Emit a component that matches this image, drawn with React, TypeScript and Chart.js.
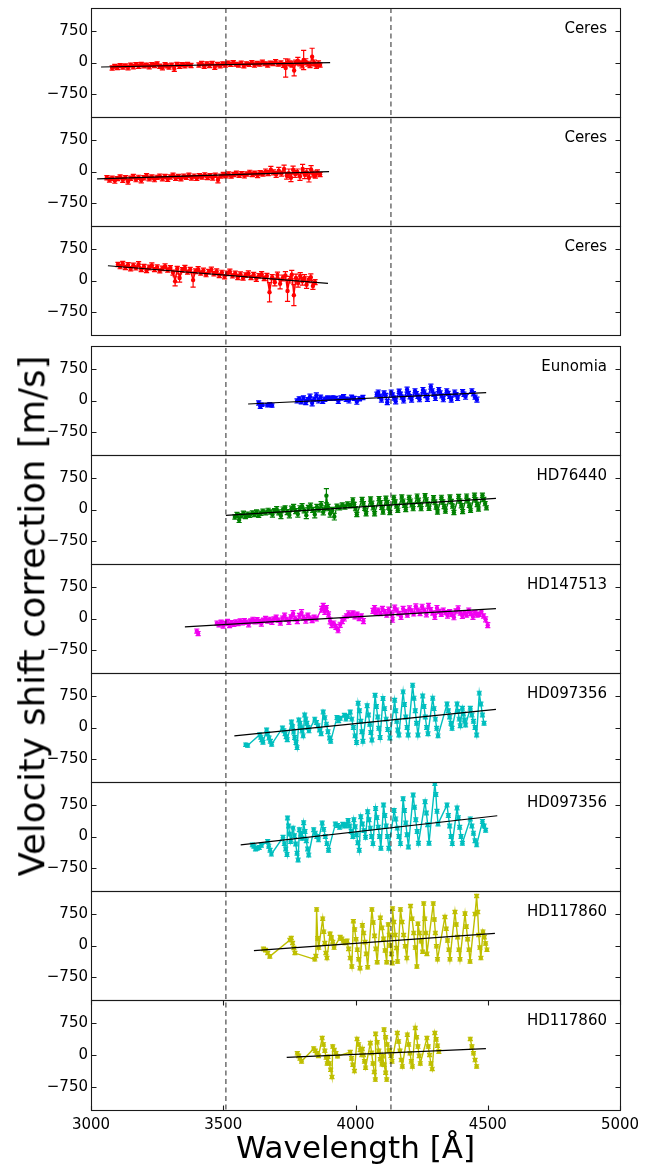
import React, { useEffect, useRef } from "react";
import { Chart, registerables } from "chart.js";

Chart.register(...registerables);
Chart.defaults.font.family = '"DejaVu Sans", sans-serif';
Chart.defaults.color = "#000";

// ---------------- axes ----------------
const X_MIN = 3000;
const X_MAX = 5000;
const X_TICKS = [3000, 3500, 4000, 4500, 5000];
const Y_MIN = -1300;
const Y_MAX = 1300;
const Y_TICKS = [-750, 0, 750];
const REF_WAVELENGTHS = [3510, 4134];
const X_TITLE = "Wavelength [Å]";
const Y_TITLE = "Velocity shift correction [m/s]";

// ---------------- panel labels / colours ----------------
const LABELS = ["Ceres", "Ceres", "Ceres", "Eunomia", "HD76440", "HD147513", "HD097356", "HD097356", "HD117860", "HD117860"];
const COLORS = ["#ff0000", "#ff0000", "#ff0000", "#0000ff", "#008000", "#f000f0", "#00bfbf", "#00bfbf", "#bfbf00", "#bfbf00"];

// ---------------- data: [wavelength, velocity, error] ----------------
const ceres1a = [
  [3080, -130, 50], [3090, -90, 45], [3100, -120, 50], [3110, -70, 45], [3120, -110, 50], [3130, -80, 45],
  [3140, -120, 55], [3150, -60, 45], [3160, -100, 50], [3170, -50, 45], [3180, -90, 50], [3190, -40, 45],
  [3200, -80, 50], [3210, -60, 45], [3220, -100, 50], [3230, -50, 45], [3240, -70, 50], [3250, -30, 45],
  [3260, -90, 50], [3270, -120, 55], [3280, -50, 45], [3287, -80, 50],
];
const ceres1b = [
  [3295, -110, 50], [3305, -60, 45], [3315, -150, 60], [3325, -40, 45], [3335, -90, 50], [3345, -50, 45],
  [3355, -80, 50], [3365, -40, 45], [3378, -70, 50],
];
const ceres1c = [
  [3408, -60, 50], [3418, -20, 45], [3428, -90, 50], [3438, -30, 45], [3448, -70, 50], [3458, -20, 45],
  [3468, -110, 55], [3478, -40, 45], [3488, -80, 50], [3498, -30, 45], [3508, -60, 50], [3518, -10, 45],
  [3528, -50, 45], [3538, 0, 45], [3548, -40, 45], [3558, -60, 50], [3568, -10, 45], [3578, -80, 50],
  [3588, -30, 45], [3598, -50, 45], [3608, 0, 45], [3618, -60, 50], [3628, -20, 45], [3638, -40, 50],
  [3648, 10, 45], [3658, -30, 45], [3668, -60, 50], [3678, -10, 45], [3688, -30, 45], [3698, 20, 50],
  [3708, -40, 45], [3718, -10, 50], [3728, -60, 55], [3736, -130, 220], [3744, 10, 70], [3752, -20, 60],
  [3760, -40, 70], [3768, -190, 130], [3774, 0, 60], [3782, 40, 80], [3790, -20, 60], [3798, -60, 70],
  [3804, 60, 230], [3812, 20, 70], [3820, -30, 60], [3828, -60, 60], [3836, 140, 200], [3844, -10, 70],
  [3852, -80, 60], [3860, -20, 60], [3866, -60, 50],
];
const ceres1Fit = [[3038, -107], [3904, -5]];

const ceres2 = [
  [3060, -150, 50], [3070, -200, 55], [3080, -160, 50], [3090, -220, 60], [3100, -170, 50], [3110, -130, 50],
  [3120, -200, 60], [3130, -150, 50], [3140, -240, 60], [3150, -160, 50], [3160, -120, 50], [3170, -190, 55],
  [3180, -140, 50], [3190, -210, 60], [3200, -150, 50], [3210, -100, 50], [3220, -170, 55], [3230, -130, 50],
  [3240, -190, 55], [3250, -140, 50], [3260, -110, 50], [3270, -170, 55], [3280, -120, 50], [3290, -180, 55],
  [3300, -130, 50], [3310, -90, 50], [3320, -160, 55], [3330, -120, 50], [3340, -170, 55], [3350, -110, 50],
  [3360, -140, 50], [3370, -90, 50], [3380, -150, 55], [3390, -110, 50], [3400, -160, 55], [3410, -100, 50],
  [3420, -130, 50], [3430, -80, 50], [3440, -140, 55], [3450, -100, 50], [3460, -150, 55], [3470, -90, 50],
  [3480, -200, 70], [3490, -110, 50], [3500, -70, 50], [3510, -100, 50], [3520, -60, 50], [3530, -110, 50],
  [3540, -70, 50], [3550, -40, 50], [3560, -90, 50], [3570, -50, 50], [3580, -100, 55], [3590, -60, 50],
  [3600, -20, 50], [3610, -70, 50], [3620, -40, 50], [3630, -90, 55], [3640, -30, 50], [3650, -60, 50],
  [3660, 0, 60], [3670, -40, 60], [3680, 40, 80], [3690, -20, 60], [3700, -70, 70], [3710, 20, 80],
  [3720, -50, 60], [3730, 60, 90], [3740, -100, 80], [3748, -40, 100], [3756, -150, 90], [3764, 40, 90],
  [3772, -60, 80], [3780, -10, 70], [3790, -120, 90], [3800, 60, 110], [3808, -80, 90], [3816, -20, 90],
  [3824, -150, 100], [3832, 50, 90], [3840, -60, 70], [3848, -100, 60], [3856, -20, 60], [3866, -70, 50],
];
const ceres2Fit = [[3023, -178], [3900, -5]];

const ceres3 = [
  [3102, 380, 50], [3110, 330, 50], [3120, 400, 55], [3130, 310, 50], [3140, 370, 55], [3150, 280, 50],
  [3160, 360, 55], [3170, 300, 50], [3180, 390, 60], [3190, 260, 50], [3200, 330, 55], [3210, 240, 50],
  [3220, 310, 55], [3230, 360, 60], [3240, 260, 50], [3250, 320, 55], [3260, 230, 50], [3270, 290, 55],
  [3280, 340, 60], [3290, 250, 50], [3300, 300, 55], [3310, 190, 60], [3318, -20, 110], [3326, 280, 55],
  [3335, 60, 100], [3345, 250, 55], [3355, 300, 60], [3365, 200, 50], [3375, 260, 55], [3386, 10, 170],
  [3395, 220, 55], [3405, 270, 60], [3415, 180, 50], [3425, 240, 55], [3435, 140, 50], [3445, 210, 55],
  [3455, 260, 60], [3465, 160, 50], [3475, 220, 55], [3485, 120, 50], [3495, 190, 55], [3505, 90, 50],
  [3515, 170, 55], [3525, 210, 60], [3535, 110, 50], [3545, 170, 55], [3555, 80, 60], [3565, 150, 55],
  [3575, 60, 50], [3585, 130, 55], [3595, 170, 60], [3605, 70, 50], [3615, 140, 55], [3625, 40, 60],
  [3635, 110, 55], [3645, 150, 60], [3655, 50, 55], [3665, 110, 60], [3675, -280, 230], [3685, 80, 60],
  [3695, -40, 90], [3705, 130, 70], [3715, -80, 120], [3725, 60, 70], [3735, 120, 90], [3743, -250, 250],
  [3751, 20, 80], [3759, 140, 100], [3767, -350, 250], [3775, 60, 90], [3783, -60, 100], [3791, 110, 80],
  [3799, -20, 90], [3807, 60, 80], [3815, -100, 90], [3823, 20, 70], [3831, 80, 80], [3839, -130, 80],
  [3847, -40, 60],
];
const ceres3Fit = [[3064, 352], [3896, -67]];

const eunomiaA = [
  [3634, -60, 50], [3640, -140, 50], [3646, -100, 40], [3668, -110, 40], [3676, -90, 40], [3684, -120, 40],
];
const eunomiaB = [
  [3779, -10, 50], [3787, 40, 50], [3795, -30, 50], [3803, 60, 50], [3812, -40, 60], [3820, 20, 50],
  [3828, 90, 60], [3836, -60, 70], [3844, 30, 50], [3852, 120, 60], [3860, 0, 60], [3868, 80, 50],
  [3876, -20, 50], [3884, 30, 50], [3895, 60, 50], [3905, 40, 40], [3915, 70, 40], [3925, 50, 50],
  [3935, -10, 60], [3945, 60, 50], [3955, 90, 50], [3965, 30, 50], [3975, 0, 60], [3985, 80, 50],
  [3995, 50, 50], [4005, -30, 60], [4015, 40, 50], [4028, 70, 50],
];
const eunomiaC = [
  [4081, 150, 50], [4086, 200, 50], [4092, 100, 50], [4098, 20, 60], [4108, 180, 50], [4114, 120, 50],
  [4120, -40, 60], [4135, 200, 50], [4140, 130, 50], [4146, 60, 50], [4152, -20, 60], [4165, 220, 50],
  [4170, 150, 50], [4176, 80, 50], [4182, 0, 60], [4195, 260, 60], [4200, 170, 50], [4206, 90, 50],
  [4212, 20, 60], [4225, 230, 50], [4230, 160, 50], [4236, 100, 50], [4242, 30, 60], [4255, 250, 60],
  [4260, 200, 50], [4266, 120, 50], [4272, 40, 60], [4285, 330, 60], [4290, 230, 50], [4296, 150, 50],
  [4302, 60, 60], [4315, 260, 50], [4320, 180, 50], [4326, 110, 50], [4332, 30, 60], [4345, 230, 50],
  [4350, 170, 50], [4356, 100, 50], [4362, 20, 60], [4375, 200, 50], [4380, 140, 50], [4386, 60, 60],
  [4405, 210, 50], [4410, 150, 50], [4416, 90, 60], [4440, 230, 50], [4446, 160, 50], [4452, 80, 50],
  [4459, 20, 60],
];
const eunomiaFit = [[3594, -83], [4494, 186]];

const hd76440 = [
  [3544, -180, 50], [3552, -120, 50], [3560, -250, 60], [3568, -150, 50], [3576, -90, 50], [3584, -170, 50],
  [3592, -110, 50], [3600, -140, 50], [3610, -80, 50], [3618, -120, 50], [3626, -60, 50], [3634, -140, 50],
  [3642, -90, 50], [3650, -40, 50], [3660, -80, 50], [3670, -20, 50], [3678, -60, 50], [3686, -120, 60],
  [3694, -30, 50], [3702, 10, 60], [3710, -70, 60], [3718, -150, 70], [3726, 0, 60], [3734, 40, 50],
  [3742, -60, 60], [3750, -130, 70], [3758, 20, 60], [3766, 60, 60], [3774, -40, 60], [3782, -110, 70],
  [3790, 30, 60], [3798, 80, 60], [3806, -20, 60], [3814, -140, 80], [3822, 40, 60], [3830, 90, 60],
  [3838, -10, 60], [3846, -120, 80], [3854, 60, 60], [3862, 0, 60], [3870, 120, 70], [3878, -60, 70],
  [3886, 30, 60], [3890, 330, 170], [3896, 60, 60], [3904, -100, 80], [3912, -20, 70], [3920, -170, 80],
  [3930, 80, 50], [3940, 40, 50], [3950, 110, 50], [3960, 60, 50], [3970, 130, 50], [3980, 90, 50],
  [3990, 230, 50], [3995, 120, 50], [4000, 20, 50], [4005, -120, 50],
  [4025, 240, 50], [4030, 140, 50], [4035, 30, 50], [4040, -100, 50],
  [4057, 250, 50], [4062, 150, 50], [4067, 40, 50], [4072, -100, 50],
  [4089, 260, 50], [4094, 160, 50], [4099, 50, 50], [4104, -60, 50],
  [4115, 270, 50], [4120, 170, 50], [4125, 60, 50], [4130, -70, 50],
  [4145, 290, 50], [4150, 180, 50], [4155, 80, 50], [4160, -20, 50],
  [4175, 300, 50], [4180, 200, 50], [4185, 100, 50], [4190, 0, 50],
  [4203, 290, 50], [4208, 200, 50], [4213, 110, 50], [4218, 20, 50],
  [4233, 320, 50], [4238, 220, 50], [4243, 120, 50], [4248, 20, 50],
  [4263, 330, 50], [4268, 230, 50], [4273, 130, 50], [4278, 30, 50],
  [4295, 280, 50], [4300, 180, 50], [4305, 60, 50], [4310, -60, 50],
  [4325, 290, 50], [4330, 180, 50], [4335, 70, 50], [4340, -40, 50],
  [4357, 300, 50], [4362, 190, 50], [4367, 80, 50], [4372, -70, 50],
  [4390, 310, 50], [4395, 200, 50], [4400, 90, 50], [4405, -50, 50],
  [4420, 320, 50], [4425, 210, 50], [4430, 100, 50], [4435, -20, 50],
  [4450, 340, 50], [4455, 230, 50], [4460, 120, 50], [4465, 10, 50],
  [4480, 340, 50], [4485, 240, 50], [4490, 140, 50], [4495, 40, 50],
];
const hd76440Fit = [[3510, -139], [4531, 266]];

const hd147513A = [[3400, -300, 50], [3405, -360, 50]];
const hd147513B = [
  [3476, -110, 50], [3484, -150, 50], [3492, -90, 50], [3500, -170, 60], [3508, -120, 50], [3516, -70, 50],
  [3524, -160, 60], [3532, -100, 50], [3540, -140, 50], [3548, -80, 50], [3556, -120, 50], [3564, -60, 50],
  [3572, -100, 50], [3580, -50, 50], [3588, -90, 50], [3596, -140, 60], [3604, -60, 50], [3612, -20, 50],
  [3620, -80, 50], [3628, -30, 50], [3636, -70, 50], [3644, -120, 60], [3652, -40, 50], [3660, 0, 50],
  [3668, -60, 50], [3676, -20, 50], [3684, -80, 60], [3692, -10, 50], [3700, 30, 50], [3708, -40, 50],
  [3716, -100, 60], [3724, 10, 50], [3732, 70, 60], [3740, -20, 50], [3748, -80, 60], [3756, 40, 50],
  [3764, 120, 70], [3772, 0, 60], [3780, -60, 60], [3788, 60, 60], [3796, 140, 70], [3804, 20, 60],
  [3812, -50, 60], [3820, 80, 50], [3828, 10, 50], [3836, -40, 60], [3844, 30, 50], [3852, -10, 50],
  [3872, 220, 70], [3878, 300, 60], [3884, 160, 60], [3890, 250, 60], [3898, 100, 60], [3904, -60, 70],
  [3910, -150, 70], [3918, -120, 60], [3926, -200, 60], [3934, -280, 60], [3942, -150, 60], [3950, -60, 60],
  [3958, 0, 60], [3966, 60, 50], [3974, 120, 60], [3982, 80, 50], [3990, 130, 50], [3998, 40, 50],
  [4006, 100, 50], [4014, 0, 50], [4022, 60, 50], [4030, -60, 60],
];
const hd147513C = [
  [4066, 180, 60], [4072, 250, 60], [4078, 150, 50], [4086, 200, 50], [4094, 120, 50], [4102, 230, 60],
  [4110, 160, 50], [4118, 80, 50], [4126, 210, 60], [4134, 130, 50], [4140, -30, 60], [4148, 260, 60],
  [4156, 200, 50], [4164, 120, 50], [4172, 40, 60], [4180, 230, 60], [4188, 160, 50], [4196, 80, 50],
  [4204, 240, 60], [4212, 180, 50], [4220, 110, 50], [4228, 290, 60], [4236, 200, 50], [4244, 120, 50],
  [4252, 280, 60], [4260, 200, 50], [4268, 100, 60], [4276, 300, 60], [4284, 210, 50], [4292, 130, 50],
  [4300, 40, 60], [4308, 250, 60], [4316, 170, 50], [4324, 100, 50], [4332, 200, 50], [4340, 140, 50],
  [4348, 70, 60], [4356, 160, 50], [4364, 100, 50], [4372, 30, 60], [4380, 180, 50], [4388, 240, 60],
  [4396, 130, 50], [4404, 60, 60], [4412, 140, 50], [4420, 80, 50], [4428, 200, 50], [4436, 120, 50],
  [4444, 40, 60], [4452, 140, 50], [4460, 80, 50], [4468, 100, 50], [4476, 160, 50], [4484, 60, 50],
  [4492, -20, 60], [4500, -160, 60],
];
const hd147513Fit = [[3355, -202], [4531, 234]];

const hd097356a = [
  [3585, -410, 40], [3592, -430, 40],
  [3638, -170, 45], [3642, -230, 45], [3646, -290, 45], [3650, -350, 45],
  [3664, -60, 45], [3668, -150, 45], [3673, -250, 45], [3678, -330, 45], [3683, -400, 45],
  [3724, -10, 45], [3729, -80, 45], [3734, -150, 45], [3738, -220, 45], [3742, -290, 45],
  [3758, 130, 45], [3762, 20, 45], [3766, -110, 45], [3770, -240, 45], [3775, -360, 45], [3779, -480, 45],
  [3786, 180, 45], [3790, 100, 45], [3794, 10, 45], [3798, -80, 45], [3802, -200, 45],
  [3808, 300, 45], [3812, 200, 45], [3816, 100, 45], [3820, 0, 45], [3824, -80, 45],
  [3846, 200, 45], [3852, 120, 45], [3858, 40, 45], [3864, -60, 45], [3870, -150, 45],
  [3878, 370, 45], [3884, 230, 45], [3890, 80, 45], [3896, -100, 45], [3902, -250, 45], [3906, -330, 45],
  [3930, 240, 45], [3936, 160, 45], [3942, 220, 45],
  [3958, 290, 45], [3964, 200, 45], [3970, 260, 45],
  [3980, 370, 45], [3986, 200, 45], [3992, 0, 45], [3998, -200, 45], [4004, -360, 45],
  [4010, 580, 45], [4015, 400, 45], [4020, 150, 45], [4024, -100, 45], [4028, -330, 45],
  [4044, 520, 45], [4049, 300, 45], [4054, 80, 45], [4058, -120, 45], [4062, -300, 45],
  [4074, 770, 45], [4079, 500, 45], [4084, 250, 45], [4088, -20, 45], [4093, -240, 45],
  [4104, 690, 45], [4110, 450, 45], [4116, 200, 45], [4122, -50, 45], [4130, -250, 45],
  [4148, 650, 45], [4152, 400, 45], [4156, 150, 45], [4160, -60, 45], [4164, -180, 45],
  [4180, 850, 45], [4185, 550, 45], [4190, 250, 45], [4195, 0, 45], [4199, -180, 45],
  [4216, 1010, 45], [4221, 700, 45], [4226, 400, 45], [4231, 100, 45], [4236, -180, 45],
  [4254, 750, 45], [4259, 500, 45], [4264, 250, 45], [4269, 0, 45], [4274, -150, 45],
  [4292, 700, 45], [4297, 450, 45], [4302, 200, 45], [4307, -20, 45], [4312, -200, 45],
  [4346, 560, 45], [4351, 400, 45], [4356, 250, 45], [4361, 100, 45], [4365, -20, 45],
  [4384, 560, 45], [4388, 380, 45], [4392, 200, 45], [4396, 40, 45],
  [4404, 460, 45], [4408, 320, 45], [4412, 180, 45], [4416, 60, 45],
  [4434, 460, 45], [4440, 300, 45], [4446, 150, 45], [4452, 0, 45], [4458, -180, 45],
  [4468, 820, 45], [4474, 560, 45], [4480, 300, 45], [4486, 100, 45],
];
const hd097356aFit = [[3542, -202], [4531, 433]];

const hd097356b = [
  [3610, -200, 45], [3616, -230, 45], [3622, -300, 45], [3628, -280, 45], [3636, -260, 45], [3644, -210, 45],
  [3668, -120, 45], [3672, -230, 45], [3677, -330, 45], [3682, -420, 45],
  [3726, -20, 45], [3731, -170, 45], [3736, -300, 45], [3741, -430, 45],
  [3743, 440, 45], [3747, 250, 45], [3751, 60, 45], [3755, -120, 45],
  [3764, 200, 45], [3769, 20, 45], [3774, -180, 45], [3779, -400, 45], [3783, -560, 45],
  [3788, 160, 45], [3793, 60, 45], [3798, -40, 45],
  [3804, 330, 45], [3809, 120, 45], [3814, -100, 45], [3819, -300, 45], [3823, -440, 45],
  [3842, 160, 45], [3848, 80, 45], [3854, 0, 45], [3860, -80, 45],
  [3874, 320, 45], [3880, 170, 45], [3886, 0, 45], [3892, -170, 45], [3898, -330, 45],
  [3924, 300, 45], [3932, 260, 45], [3940, 220, 45],
  [3952, 290, 45], [3958, 250, 45], [3964, 270, 45],
  [3972, 380, 45], [3978, 250, 45], [3984, 120, 45], [3990, 0, 45],
  [3994, 400, 45], [3999, 230, 45], [4004, 40, 45], [4009, -150, 45], [4014, -330, 45],
  [4020, 470, 45], [4026, 300, 45], [4032, 140, 45], [4038, -20, 45],
  [4046, 590, 45], [4051, 400, 45], [4056, 200, 45], [4061, 0, 45], [4066, -170, 45],
  [4076, 670, 45], [4081, 450, 45], [4086, 220, 45], [4091, 0, 45], [4096, -280, 45],
  [4106, 750, 45], [4111, 500, 45], [4116, 250, 45], [4121, 0, 45], [4126, -280, 45],
  [4146, 620, 45], [4152, 420, 45], [4158, 200, 45], [4164, 0, 45], [4170, -170, 45],
  [4180, 900, 45], [4185, 620, 45], [4190, 320, 45], [4195, 40, 45], [4200, -250, 45],
  [4218, 990, 45], [4223, 700, 45], [4228, 400, 45], [4233, 120, 45], [4238, -160, 45],
  [4263, 830, 45], [4268, 560, 45], [4273, 280, 45], [4278, -160, 45],
  [4300, 1265, 45], [4304, 1000, 45], [4308, 600, 45], [4312, 300, 45],
  [4346, 750, 45], [4351, 500, 45], [4356, 250, 45], [4361, 0, 45], [4366, -170, 45],
  [4384, 680, 45], [4389, 450, 45], [4394, 220, 45], [4399, 0, 45], [4404, -160, 45],
  [4434, 420, 45], [4440, 250, 45], [4446, 80, 45], [4452, -100, 45], [4458, -200, 45],
  [4480, 360, 45], [4486, 250, 45], [4492, 150, 45],
];
const hd097356bFit = [[3566, -202], [4536, 495]];

const hd117860a = [
  [3652, -80, 40], [3660, -110, 40], [3668, -180, 40], [3676, -260, 40],
  [3752, 130, 40], [3757, 180, 40], [3762, 60, 40], [3767, -60, 40], [3771, -180, 40],
  [3846, -330, 40], [3850, -250, 40], [3853, 860, 40], [3857, 170, 40], [3861, -50, 40],
  [3876, 640, 40], [3880, 330, 40], [3884, 60, 40], [3888, -180, 40], [3892, -300, 40],
  [3904, 280, 40], [3909, 190, 40], [3914, 80, 40], [3919, -50, 40],
  [3942, 200, 40], [3948, 160, 40], [3954, 100, 40], [3960, 60, 40],
  [3968, 110, 40], [3974, -80, 40], [3980, -300, 40], [3986, -500, 40],
  [3992, 580, 40], [3997, 380, 40], [4002, 150, 40], [4007, -100, 40], [4012, -330, 40], [4017, -540, 40],
  [4026, 480, 40], [4031, 300, 40], [4036, 80, 40], [4041, -200, 40], [4046, -520, 40],
  [4062, 860, 40], [4067, 550, 40], [4072, 230, 40], [4077, -80, 40], [4082, -400, 40],
  [4094, 660, 40], [4100, 420, 40], [4106, 160, 40], [4112, -120, 40], [4118, -400, 40],
  [4124, 500, 40], [4128, 250, 40], [4132, 0, 40], [4136, -200, 40], [4139, -420, 40],
  [4140, 880, 40], [4145, 560, 40], [4150, 250, 40], [4155, -60, 40], [4159, -380, 40],
  [4170, 860, 40], [4176, 560, 40], [4182, 250, 40], [4188, -20, 40], [4194, -300, 40],
  [4208, 940, 40], [4214, 640, 40], [4220, 300, 40], [4226, -50, 40], [4232, -500, 40],
  [4236, 520, 40], [4242, 300, 40], [4248, 100, 40], [4254, -150, 40],
  [4258, 1000, 40], [4262, 640, 40], [4266, 300, 40], [4270, -200, 40],
  [4294, 1000, 40], [4298, 620, 40], [4302, 300, 40], [4306, -20, 40], [4310, -330, 40],
  [4338, 680, 40], [4343, 400, 40], [4348, 120, 40], [4353, -100, 40], [4357, -330, 40],
  [4376, 800, 40], [4381, 500, 40], [4386, 200, 40], [4391, -100, 40], [4395, -330, 40],
  [4414, 760, 40], [4419, 450, 40], [4424, 150, 40], [4429, -100, 40], [4433, -380, 40],
  [4452, 750, 40], [4458, 1180, 40], [4462, 800, 40], [4466, 250, 40], [4470, -50, 40], [4474, -300, 40],
  [4482, 330, 40], [4487, 200, 40], [4492, 50, 40], [4497, -100, 40],
];
const hd117860aFit = [[3616, -123], [4527, 290]];

const hd117860b = [
  [3780, 40, 40], [3785, -20, 40], [3790, -80, 40], [3796, -150, 40],
  [3842, 150, 40], [3848, 100, 40], [3854, 40, 40], [3860, -20, 40],
  [3874, 400, 40], [3879, 250, 40], [3884, 100, 40], [3889, -60, 40], [3893, -200, 40],
  [3896, -40, 40], [3901, -200, 40], [3906, -350, 40], [3911, -520, 40],
  [3914, 200, 40], [3920, 120, 40], [3926, 40, 40], [3932, -30, 40],
  [3980, 70, 40], [3985, -80, 40], [3990, -230, 40], [3996, -380, 40],
  [4006, 380, 40], [4012, 250, 40], [4018, 120, 40], [4024, 0, 40],
  [4026, 140, 40], [4030, 0, 40], [4034, -150, 40], [4038, -300, 40],
  [4056, 280, 40], [4061, 50, 40], [4066, -200, 40], [4071, -400, 40], [4075, -580, 40],
  [4076, 500, 40], [4082, 300, 40], [4088, 100, 40], [4094, -100, 40], [4100, -220, 40],
  [4102, -30, 40], [4108, -230, 40], [4114, -420, 40], [4118, -580, 40],
  [4108, 600, 40], [4114, 420, 40], [4120, 250, 40], [4126, 100, 40],
  [4130, 120, 40], [4134, -20, 40], [4138, -150, 40],
  [4158, 520, 40], [4163, 320, 40], [4168, 100, 40], [4173, -120, 40], [4177, -270, 40],
  [4196, 480, 40], [4201, 250, 40], [4206, 40, 40], [4211, -150, 40], [4215, -270, 40],
  [4226, 640, 40], [4231, 420, 40], [4236, 200, 40], [4241, -20, 40], [4245, -200, 40],
  [4270, 400, 40], [4275, 200, 40], [4280, 0, 40], [4285, -200, 40], [4290, -330, 40],
  [4300, 520, 40], [4305, 370, 40], [4310, 220, 40], [4315, 80, 40],
];
const hd117860c = [
  [4434, 380, 40], [4440, 200, 40], [4446, 40, 40], [4452, -120, 40], [4458, -270, 40],
];
const hd117860bFit = [[3740, -55], [4493, 150]];

const SEGMENTS = [
  [ceres1a, ceres1b, ceres1c],
  [ceres2],
  [ceres3],
  [eunomiaA, eunomiaB, eunomiaC],
  [hd76440],
  [hd147513A, hd147513B, hd147513C],
  [hd097356a],
  [hd097356b],
  [hd117860a],
  [hd117860b, hd117860c],
];
const FITS = [ceres1Fit, ceres2Fit, ceres3Fit, eunomiaFit, hd76440Fit, hd147513Fit, hd097356aFit, hd097356bFit, hd117860aFit, hd117860bFit];

// ---------------- layout (not data) ----------------
const W = 657;
const H = 1167;
const PLOT_LEFT = 91;
const PLOT_RIGHT = 620;
const PANEL_TOPS = [8, 117, 226, 346, 455, 564, 673, 782, 891, 1000];
const PANEL_HEIGHTS = [109, 109, 109, 109, 109, 109, 109, 109, 109, 110];
const PAD = 3;

function fmtTick(v: number) {
  return v < 0 ? "\u2212" + Math.abs(v) : String(v);
}

function canvasBox(i: number) {
  const isLast = i === PANEL_TOPS.length - 1;
  const top = PANEL_TOPS[i] - PAD;
  const bottom = isLast ? H : PANEL_TOPS[i] + PANEL_HEIGHTS[i] + PAD;
  return { top, height: bottom - top, isLast };
}

function makeDecor(i: number, isLast: boolean) {
  const color = COLORS[i];
  const segs = SEGMENTS[i];
  return {
    id: "decor" + i,
    beforeDatasetDraw(chart: any, args: any) {
      if (args.index === 0) return;
      const seg = segs[args.index - 1];
      if (!seg) return;
      const { ctx, chartArea } = chart;
      const xs = chart.scales.x;
      const ys = chart.scales.y;
      ctx.save();
      ctx.beginPath();
      ctx.rect(chartArea.left, chartArea.top, chartArea.right - chartArea.left, chartArea.bottom - chartArea.top);
      ctx.clip();
      ctx.strokeStyle = color;
      ctx.lineWidth = 1.2;
      ctx.beginPath();
      seg.forEach((r: number[]) => {
        const x = xs.getPixelForValue(r[0]);
        const y1 = ys.getPixelForValue(r[1] + r[2]);
        const y2 = ys.getPixelForValue(r[1] - r[2]);
        ctx.moveTo(x, y1);
        ctx.lineTo(x, y2);
        ctx.moveTo(x - 2.6, y1);
        ctx.lineTo(x + 2.6, y1);
        ctx.moveTo(x - 2.6, y2);
        ctx.lineTo(x + 2.6, y2);
      });
      ctx.stroke();
      ctx.restore();
    },
    afterDraw(chart: any) {
      const { ctx, chartArea } = chart;
      const { right, top } = chartArea;
      const xs = chart.scales.x;
      const ys = chart.scales.y;
      const L = Math.round(chartArea.left) + 0.5;
      const R = Math.round(chartArea.right) + 0.5;
      const T = Math.round(chartArea.top) + 0.5;
      const B = Math.round(chartArea.bottom) + 0.5;
      ctx.save();
      ctx.strokeStyle = "#1a1a1a";
      ctx.lineWidth = 1.1;
      ctx.strokeRect(L, T, R - L, B - T);
      ctx.beginPath();
      Y_TICKS.forEach((v) => {
        const y = Math.round(ys.getPixelForValue(v)) + 0.5;
        ctx.moveTo(L, y);
        ctx.lineTo(L + 5, y);
        ctx.moveTo(R, y);
        ctx.lineTo(R - 5, y);
      });
      if (isLast) {
        X_TICKS.forEach((v) => {
          const x = Math.round(xs.getPixelForValue(v)) + 0.5;
          ctx.moveTo(x, B);
          ctx.lineTo(x, B - 5);
          ctx.moveTo(x, T);
          ctx.lineTo(x, T + 5);
        });
      }
      ctx.stroke();
      ctx.fillStyle = "#000";
      ctx.font = '15px "DejaVu Sans"';
      ctx.textAlign = "right";
      ctx.textBaseline = "middle";
      ctx.fillText(LABELS[i], right - 13, top + 21);
      ctx.restore();
    },
  };
}

export default function App() {
  const canvasRefs = useRef<(HTMLCanvasElement | null)[]>([]);
  const overlayRef = useRef<HTMLCanvasElement | null>(null);

  useEffect(() => {
    const charts: Chart[] = [];
    SEGMENTS.forEach((segs, i) => {
      const cv = canvasRefs.current[i];
      if (!cv) return;
      const { isLast } = canvasBox(i);
      const color = COLORS[i];
      const datasets: any[] = [
        {
          data: FITS[i].map(([x, y]) => ({ x, y })),
          borderColor: "#000",
          borderWidth: 1.2,
          pointRadius: 0,
          fill: false,
        },
        ...segs.map((seg) => ({
          data: seg.map((r) => ({ x: r[0], y: r[1] })),
          borderColor: color,
          borderWidth: 1.4,
          pointRadius: 2.2,
          pointHoverRadius: 0,
          pointBorderWidth: 0,
          pointBackgroundColor: color,
          fill: false,
        })),
      ];
      const xAxis: any = {
        type: "linear",
        min: X_MIN,
        max: X_MAX,
        display: isLast,
        afterBuildTicks: (s: any) => {
          s.ticks = X_TICKS.map((v) => ({ value: v }));
        },
        ticks: { font: { size: 15 }, color: "#000", padding: 6, maxRotation: 0, autoSkip: false, callback: (v: any) => String(v) },
        grid: { display: false, drawTicks: false },
        border: { display: false },
        title: { display: isLast, text: X_TITLE, font: { size: 31 }, color: "#000", padding: { top: 0, bottom: -2 } },
      };
      if (isLast) {
        xAxis.afterFit = (s: any) => {
          s.height = H - (PANEL_TOPS[i] + PANEL_HEIGHTS[i]);
          s.paddingLeft = 0;
          s.paddingRight = 0;
        };
      }
      const chart = new Chart(cv, {
        type: "line",
        data: { datasets },
        options: {
          animation: false,
          responsive: false,
          devicePixelRatio: 1,
          events: [],
          layout: { autoPadding: false, padding: { left: 0, right: W - PLOT_RIGHT, top: PAD, bottom: isLast ? 0 : PAD } },
          plugins: { legend: { display: false }, tooltip: { enabled: false } },
          scales: {
            x: xAxis,
            y: {
              type: "linear",
              min: Y_MIN,
              max: Y_MAX,
              afterBuildTicks: (s: any) => {
                s.ticks = Y_TICKS.map((v) => ({ value: v }));
              },
              afterFit: (s: any) => {
                s.width = PLOT_LEFT;
                s.paddingTop = 0;
                s.paddingBottom = 0;
              },
              ticks: { font: { size: 15 }, color: "#000", padding: 3, callback: (v: any) => fmtTick(Number(v)) },
              grid: { display: false, drawTicks: false },
              border: { display: false },
            },
          },
        } as any,
        plugins: [makeDecor(i, isLast)],
      });
      charts.push(chart);
    });

    const ov = overlayRef.current;
    if (ov && charts.length === SEGMENTS.length) {
      const ctx = ov.getContext("2d")!;
      ctx.clearRect(0, 0, W, H);
      const first = charts[0];
      const last = charts[charts.length - 1];
      const y0 = canvasBox(0).top + first.chartArea.top;
      const y1 = canvasBox(charts.length - 1).top + last.chartArea.bottom;
      const xs = last.scales.x;
      ctx.save();
      ctx.strokeStyle = "rgba(30,30,30,0.8)";
      ctx.lineWidth = 1.2;
      ctx.setLineDash([5, 3.5]);
      REF_WAVELENGTHS.forEach((w) => {
        const x = xs.getPixelForValue(w);
        ctx.beginPath();
        ctx.moveTo(x, y0);
        ctx.lineTo(x, y1);
        ctx.stroke();
      });
      ctx.restore();
    }

    return () => {
      charts.forEach((c) => c.destroy());
    };
  }, []);

  return (
    <div style={{ position: "absolute", left: 0, top: 0, width: W, height: H, background: "#fff", overflow: "hidden" }}>
      {SEGMENTS.map((_, i) => {
        const b = canvasBox(i);
        return (
          <canvas
            key={i}
            ref={(el) => {
              canvasRefs.current[i] = el;
            }}
            width={W}
            height={b.height}
            style={{ position: "absolute", left: 0, top: b.top, width: W, height: b.height }}
          />
        );
      })}
      <canvas
        ref={overlayRef}
        width={W}
        height={H}
        style={{ position: "absolute", left: 0, top: 0, width: W, height: H, pointerEvents: "none" }}
      />
      <div
        style={{
          position: "absolute",
          left: 32,
          top: 616,
          transform: "translate(-50%, -50%) rotate(-90deg)",
          fontFamily: '"DejaVu Sans", sans-serif',
          fontSize: 35.5,
          lineHeight: 1,
          whiteSpace: "nowrap",
          color: "#000",
        }}
      >
        {Y_TITLE}
      </div>
    </div>
  );
}
